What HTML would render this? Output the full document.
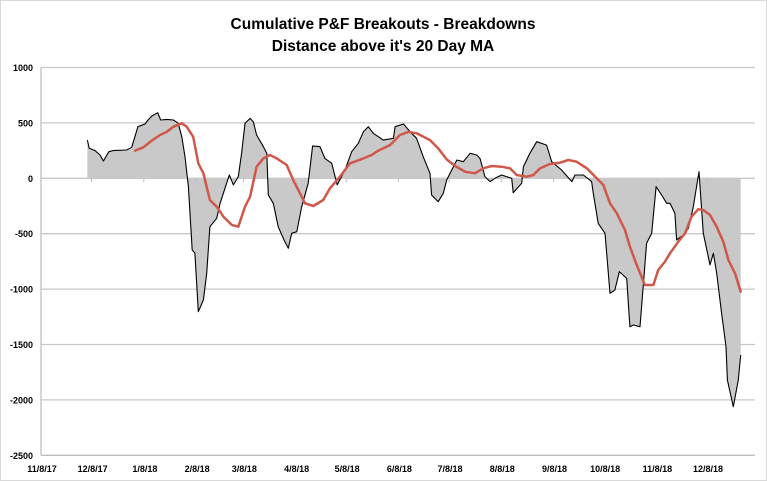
<!DOCTYPE html>
<html><head><meta charset="utf-8"><style>
html,body{margin:0;padding:0;background:#fff;}
svg{display:block;font-family:"Liberation Sans",Arial,sans-serif;}
</style></head><body>
<svg id="chart" width="767" height="481" viewBox="0 0 767 481" xmlns="http://www.w3.org/2000/svg">
<rect x="0.5" y="0.5" width="766" height="480" fill="#fff" stroke="#d9d9d9"/>
<text x="383" y="29" text-anchor="middle" font-size="15.5" font-weight="bold" fill="#000">Cumulative P&amp;F Breakouts - Breakdowns</text>
<text x="383" y="51" text-anchor="middle" font-size="15.5" font-weight="bold" fill="#000">Distance above it's 20 Day MA</text>
<g id="grid"></g>
<g id="area"></g>
<g id="lines"></g>
<g id="axes"></g>
</svg>
<script>
const yTicks = [1000, 500, 0, -500, -1000, -1500, -2000, -2500];
const xTickLabels = ["11/8/17","12/8/17","1/8/18","2/8/18","3/8/18","4/8/18","5/8/18","6/8/18","7/8/18","8/8/18","9/8/18","10/8/18","11/8/18","12/8/18"];
const xTickDays = [0,30,61,92,120,151,181,212,242,273,304,334,365,395];
const netDays = [27.5,28.6,32,35,37,40.3,42.7,50.8,53.8,57.5,61.7,63.5,65.7,69.2,71,74.6,78.5,81.4,83.5,85.4,87.4,89.7,91.3,93.3,96.3,98.3,100.2,104.2,106.2,110.1,111.7,114.1,117,119,121,124,125.9,127.9,131.9,133.9,134.8,137.8,140.7,144.1,146.7,148.7,151.7,154.6,158.5,161.1,165.5,168.4,172.4,175.7,180.3,184.3,188.2,191.2,194.1,197.1,203,209,210,215,218.9,222.8,226.7,230.7,231.7,235.6,238.6,240.6,246.6,250.5,254.5,258.4,260.4,263.3,266.3,269.3,273.2,279.2,280.1,285.1,286.1,290,294,299.9,302.9,308.8,314.8,316.7,321.7,326.6,327.6,330.5,334.5,337.5,340.4,343,347.4,349.3,351.3,355.3,359.2,362.2,364.8,368.1,371.1,373.1,376,377,381,384,386.9,390.3,392.8,396.8,398.8,400.8,403.7,406.3,407.1,410.6,413.6,415];
const netValues = [345,273,250,210,156,240,250,255,280,466,490,526,562,592,526,532,526,496,375,195,-76,-647,-675,-1204,-1098,-857,-437,-361,-226,-45,30,-60,14,226,496,541,511,391,285,226,-151,-226,-437,-557,-632,-496,-482,-256,-45,292,285,180,135,-60,75,240,316,420,466,406,345,361,466,490,420,361,195,45,-151,-211,-135,-15,165,150,226,210,180,15,-30,0,30,0,-130,-45,105,226,330,300,150,75,-30,30,30,-30,-135,-406,-496,-1038,-1008,-843,-903,-1339,-1324,-1339,-587,-496,-76,-151,-226,-226,-316,-557,-512,-451,-256,60,-496,-782,-677,-857,-1218,-1520,-1820,-2061,-1820,-1595];
const maDays = [55.8,60.7,65.7,70.6,74.6,78.5,83.5,86.4,90.3,93.3,96.3,100.2,104.2,108.1,113.1,117,121,124,127.9,131.9,135.8,139.8,145.7,149.6,153.6,156.6,161.5,167.4,171.4,177.3,183.3,191.2,196.1,200.1,207,212.9,217.9,222.8,230.7,235.6,240.6,245.6,251.5,257.4,262.3,267.3,273.2,278.2,282.1,288.1,292,296,301.9,307.8,312.8,317.7,323.7,329.6,333.5,337.5,341.5,346.4,349.3,353.3,358.2,363.2,366.1,370.1,373.1,378,382,385.9,389.8,392.8,396.8,400.8,404.7,407.7,411.6,415];
const maValues = [250,280,340,391,420,466,496,466,375,135,45,-196,-256,-346,-421,-437,-256,-166,105,180,210,180,120,-15,-135,-226,-250,-196,-90,14,135,180,210,250,300,391,420,406,345,270,171,111,60,45,90,111,105,90,30,14,30,90,129,141,165,150,90,0,-60,-226,-316,-467,-617,-782,-963,-963,-828,-752,-677,-572,-496,-346,-280,-286,-331,-437,-572,-737,-857,-1023];

const NS = "http://www.w3.org/2000/svg";
const X0 = 41, PXD = 1.686, Y0 = 178.3, PXV = 55.4/500, XR = 755;
const xs = d => X0 + d * PXD;
const ys = v => Y0 - v * PXV;
function mk(tag, attrs, parent){ const e=document.createElementNS(NS,tag); for(const k in attrs) e.setAttribute(k,attrs[k]); parent.appendChild(e); return e; }
const grid=document.getElementById('grid'), area=document.getElementById('area'), lines=document.getElementById('lines'), axes=document.getElementById('axes');

yTicks.forEach(v=>{
  const y=ys(v);
  if(v!==-2500){
    const l=mk('line',{x1:X0,x2:XR,y1:y,y2:y,stroke:'#c8c8c8','stroke-width':1.3},grid);
    
    
  }
  const t=mk('text',{x:33,y:y+3.5,'text-anchor':'end','font-size':9,'font-weight':'bold',fill:'#000'},axes);
  t.textContent=v;
  
  
});

// area fill
let d='M'+xs(netDays[0])+','+ys(0);
netDays.forEach((dd,i)=>{ d+=' L'+xs(dd).toFixed(1)+','+ys(netValues[i]).toFixed(1); });
d+=' L'+xs(netDays[netDays.length-1])+','+ys(0)+' Z';
const ar=mk('path',{d:d,fill:'#c9c9c9',stroke:'none'},area);



const netLine=mk('polyline',{points:netDays.map((dd,i)=>xs(dd).toFixed(1)+','+ys(netValues[i]).toFixed(1)).join(' '),fill:'none',stroke:'#000','stroke-width':1.1,'stroke-linejoin':'round'},lines);



const maLine=mk('polyline',{points:maDays.map((dd,i)=>xs(dd).toFixed(1)+','+ys(maValues[i]).toFixed(1)).join(' '),fill:'none',stroke:'#d0584b','stroke-width':2.5,'stroke-linejoin':'round','stroke-linecap':'round'},lines);



// axes
const ya=mk('line',{x1:X0,x2:X0,y1:ys(1000),y2:ys(-2500),stroke:'#bfbfbf','stroke-width':1.3},axes);


const xa=mk('line',{x1:X0,x2:XR,y1:ys(-2500),y2:ys(-2500),stroke:'#bfbfbf','stroke-width':1.3},axes);


xTickLabels.forEach((lab,i)=>{
  const x=xs(xTickDays[i]);
  const tk=mk('line',{x1:x,x2:x,y1:Y0,y2:Y0+4,stroke:'#bfbfbf','stroke-width':1},axes);
  
  
  const t=mk('text',{x:x+1,y:472,'text-anchor':'middle','font-size':9,'font-weight':'bold',fill:'#000'},axes);
  t.textContent=lab;
  
  
});
</script>
</body></html>
